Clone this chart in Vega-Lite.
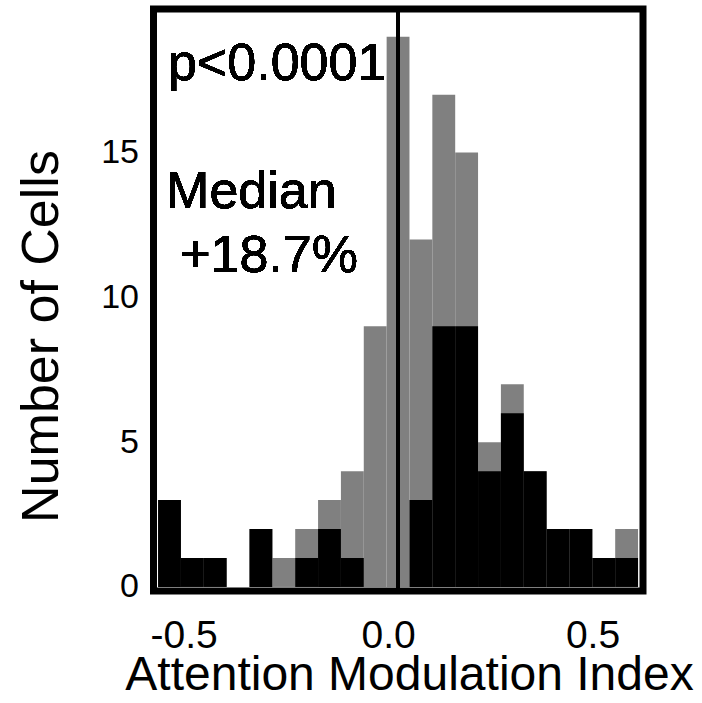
{
  "$schema": "https://vega.github.io/schema/vega-lite/v6.json",
  "autosize": {"type": "none"},
  "padding": {"left": 153.5, "top": 9, "right": 59, "bottom": 112},
  "width": 489.5,
  "height": 582,
  "background": "white",
  "config": {
    "view": {"stroke": "black", "strokeWidth": 7},
    "text": {"font": "Liberation Sans"}
  },
  "datasets": {
    "cells": [
      {"bin_start": -0.63, "bin_end": -0.57, "total": 3, "significant": 3},
      {"bin_start": -0.57, "bin_end": -0.51, "total": 1, "significant": 1},
      {"bin_start": -0.51, "bin_end": -0.45, "total": 1, "significant": 1},
      {"bin_start": -0.45, "bin_end": -0.39, "total": 0, "significant": 0},
      {"bin_start": -0.39, "bin_end": -0.33, "total": 2, "significant": 2},
      {"bin_start": -0.33, "bin_end": -0.27, "total": 1, "significant": 0},
      {"bin_start": -0.27, "bin_end": -0.21, "total": 2, "significant": 1},
      {"bin_start": -0.21, "bin_end": -0.15, "total": 3, "significant": 2},
      {"bin_start": -0.15, "bin_end": -0.09, "total": 4, "significant": 1},
      {"bin_start": -0.09, "bin_end": -0.03, "total": 9, "significant": 0},
      {"bin_start": -0.03, "bin_end": 0.03, "total": 19, "significant": 0},
      {"bin_start": 0.03, "bin_end": 0.09, "total": 12, "significant": 3},
      {"bin_start": 0.09, "bin_end": 0.15, "total": 17, "significant": 9},
      {"bin_start": 0.15, "bin_end": 0.21, "total": 15, "significant": 9},
      {"bin_start": 0.21, "bin_end": 0.27, "total": 5, "significant": 4},
      {"bin_start": 0.27, "bin_end": 0.33, "total": 7, "significant": 6},
      {"bin_start": 0.33, "bin_end": 0.39, "total": 4, "significant": 4},
      {"bin_start": 0.39, "bin_end": 0.45, "total": 2, "significant": 2},
      {"bin_start": 0.45, "bin_end": 0.51, "total": 2, "significant": 2},
      {"bin_start": 0.51, "bin_end": 0.57, "total": 1, "significant": 1},
      {"bin_start": 0.57, "bin_end": 0.63, "total": 2, "significant": 1}
    ],
    "top_ticks": [{"tick": -0.5}, {"tick": 0.5}],
    "right_ticks": [{"tick": 5}, {"tick": 10}, {"tick": 15}]
  },
  "data": {"name": "cells"},
  "encoding": {
    "x": {
      "field": "bin_start",
      "type": "quantitative",
      "scale": {"domain": [-0.642, 0.643], "nice": false, "zero": false},
      "axis": {
        "values": [-0.5, 0, 0.5],
        "labelExpr": "datum.value < 0 ? '-' + format(-datum.value, '.1f') : format(datum.value, '.1f')",
        "ticks": false,
        "tickSize": 0,
        "domain": false,
        "grid": false,
        "labelFont": "Liberation Sans",
        "labelFontSize": 39,
        "labelColor": "black",
        "labelBaseline": "alphabetic",
        "labelPadding": 56,
        "labelOffset": {
          "condition": [
            {"test": "datum.value < 0", "value": -24},
            {"test": "datum.value > 0", "value": 4}
          ],
          "value": -10
        },
        "labelFlush": false,
        "labelOverlap": false,
        "title": "Attention Modulation Index",
        "titleFont": "Liberation Sans",
        "titleFontSize": 48,
        "titleFontWeight": "normal",
        "titleColor": "black",
        "titleX": 255.5,
        "titleY": 98,
        "titleAlign": "center",
        "titleBaseline": "alphabetic"
      }
    },
    "y": {
      "field": "total",
      "type": "quantitative",
      "scale": {"domain": [-0.14, 19.96], "nice": false, "zero": false},
      "axis": {
        "values": [0, 5, 10, 15],
        "ticks": false,
        "tickSize": 0,
        "domain": false,
        "grid": false,
        "labelFont": "Liberation Sans",
        "labelFontSize": 34,
        "labelColor": "black",
        "labelPadding": 15,
        "labelFlush": false,
        "labelOverlap": false,
        "title": "Number of Cells",
        "titleFont": "Liberation Sans",
        "titleFontSize": 52,
        "titleFontWeight": "normal",
        "titleColor": "black",
        "titleAngle": -90,
        "titleX": -96.5,
        "titleY": 327,
        "titleAlign": "center",
        "titleBaseline": "alphabetic"
      }
    }
  },
  "layer": [
    {
      "mark": {"type": "bar", "color": "#808080"},
      "encoding": {
        "x2": {"field": "bin_end"},
        "y2": {"datum": 0}
      }
    },
    {
      "mark": {"type": "bar", "color": "#000000"},
      "encoding": {
        "x2": {"field": "bin_end"},
        "y": {"field": "significant", "type": "quantitative"},
        "y2": {"datum": 0}
      }
    },
    {
      "mark": {"type": "rule", "color": "black", "strokeWidth": 3},
      "encoding": {"x": {"datum": 0}, "y": null}
    },
    {
      "data": {"name": "top_ticks"},
      "mark": {"type": "rule", "color": "black", "strokeWidth": 2},
      "encoding": {
        "x": {"field": "tick", "type": "quantitative"},
        "y": {"datum": 19.96},
        "y2": {"datum": 19.62}
      }
    },
    {
      "data": {"name": "right_ticks"},
      "mark": {"type": "rule", "color": "black", "strokeWidth": 2},
      "encoding": {
        "y": {"field": "tick", "type": "quantitative"},
        "x": {"datum": 0.643},
        "x2": {"datum": 0.617}
      }
    },
    {
      "mark": {"type": "text", "fontSize": 52, "align": "left", "baseline": "alphabetic", "color": "black"},
      "encoding": {"x": {"datum": -0.604}, "y": {"datum": 17.51}, "text": {"value": "p<0.0001"}}
    },
    {
      "mark": {"type": "text", "fontSize": 52, "align": "left", "baseline": "alphabetic", "color": "black"},
      "encoding": {"x": {"datum": -0.609}, "y": {"datum": 13.09}, "text": {"value": "Median"}}
    },
    {
      "mark": {"type": "text", "fontSize": 52, "align": "left", "baseline": "alphabetic", "color": "black"},
      "encoding": {"x": {"datum": -0.572}, "y": {"datum": 10.88}, "text": {"value": "+18.7%"}}
    }
  ]
}
